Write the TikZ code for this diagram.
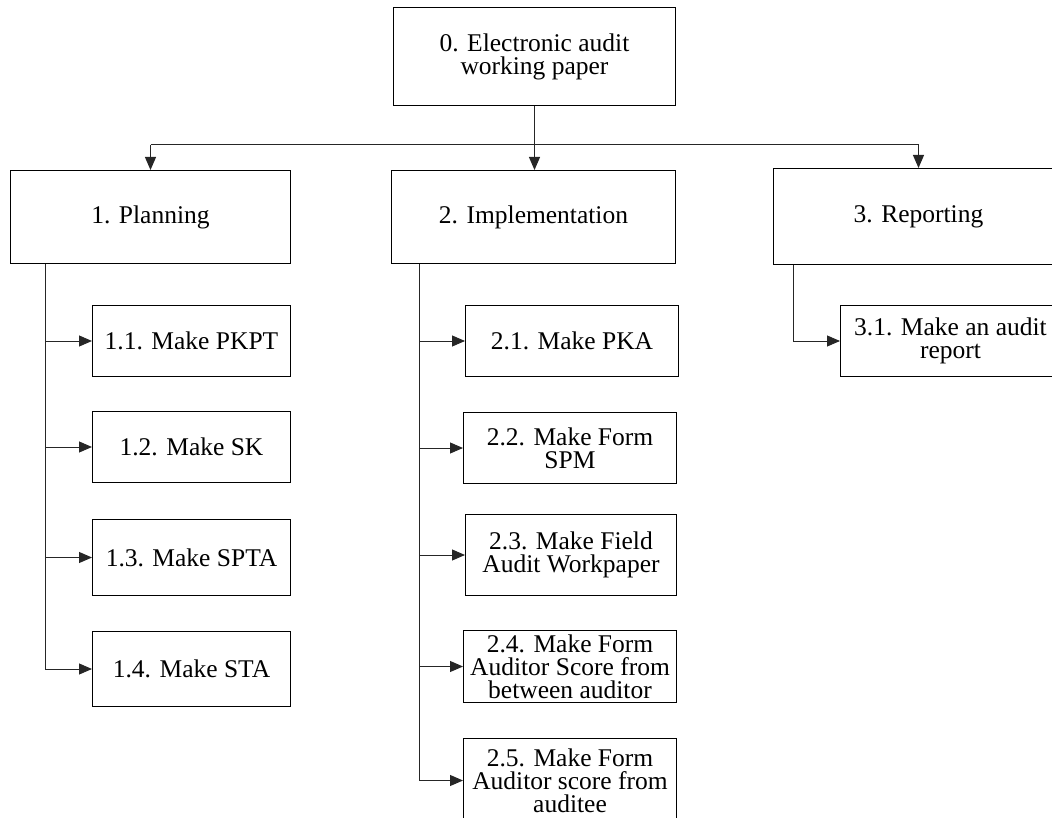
\documentclass[tikz,border=0pt]{standalone}
\usepackage{fontspec}
\setmainfont{Liberation Serif}
\usetikzlibrary{arrows.meta}
\begin{document}
\begin{tikzpicture}[x=1pt,y=-1pt,
  box/.style={draw=black,line width=1pt,anchor=north west,align=center,inner sep=2pt,
    font=\fontsize{25.5}{23}\selectfont},
  conn/.style={draw=black!85,line width=1pt},
  arr/.style={conn,-{Triangle[length=13pt,width=11pt]}}]
\useasboundingbox (0,0) rectangle (1052,818);
\clip (0,0) rectangle (1052,818);
% level 0
\node[box,minimum width=282pt,minimum height=98pt] (n0) at (393,7) {0. Electronic audit\\working paper};
% level 1
\node[box,minimum width=280pt,minimum height=93pt] (n1) at (10,170) {1. Planning};
\node[box,minimum width=284pt,minimum height=93pt] (n2) at (391,170) {2. Implementation};
\node[box,minimum width=290pt,minimum height=96pt] (n3) at (773,168) {3. Reporting};
% planning children
\node[box,minimum width=198pt,minimum height=71pt] (n11) at (92,305) {1.1. Make PKPT};
\node[box,minimum width=198pt,minimum height=71pt] (n12) at (92,411) {1.2. Make SK};
\node[box,minimum width=198pt,minimum height=76pt] (n13) at (92,519) {1.3. Make SPTA};
\node[box,minimum width=198pt,minimum height=75pt] (n14) at (92,631) {1.4. Make STA};
% implementation children
\node[box,minimum width=213pt,minimum height=71pt] (n21) at (465,305) {2.1. Make PKA};
\node[box,minimum width=213pt,minimum height=71pt] (n22) at (463,412) {2.2. Make Form\\SPM};
\node[box,minimum width=211pt,minimum height=81pt] (n23) at (465,514) {2.3. Make Field\\Audit Workpaper};
\node[box,minimum width=213pt,minimum height=72pt] (n24) at (463,630) {2.4. Make Form\\Auditor Score from\\between auditor};
\node[box,minimum width=213pt,minimum height=84pt] (n25) at (463,738) {2.5. Make Form\\Auditor score from\\auditee};
% reporting child
\node[box,minimum width=220pt,minimum height=71pt] (n31) at (840,305) {3.1. Make an audit\\report};
% coordinates
\coordinate (bus) at (0,145);
\coordinate (sp1) at (45,0);
\coordinate (sp2) at (419,0);
\coordinate (sp3) at (793,0);
% top connectors
\draw[arr] (n0.south) -- (n0.south |- n2.north);
\draw[conn] (n1.north |- bus) -- (n3.north |- bus);
\draw[arr] (n1.north |- bus) -- (n1.north);
\draw[arr] (n3.north |- bus) -- (n3.north);
% planning spine
\draw[conn] (sp1 |- n1.south) -- (sp1 |- n14.west);
\foreach \n in {n11,n12,n13,n14} \draw[arr] (sp1 |- \n.west) -- (\n.west);
% implementation spine
\draw[conn] (sp2 |- n2.south) -- (sp2 |- n25.west);
\foreach \n in {n21,n22,n23,n24,n25} \draw[arr] (sp2 |- \n.west) -- (\n.west);
% reporting
\draw[arr] (sp3 |- n3.south) -- (sp3 |- n31.west) -- (n31.west);
\end{tikzpicture}
\end{document}
